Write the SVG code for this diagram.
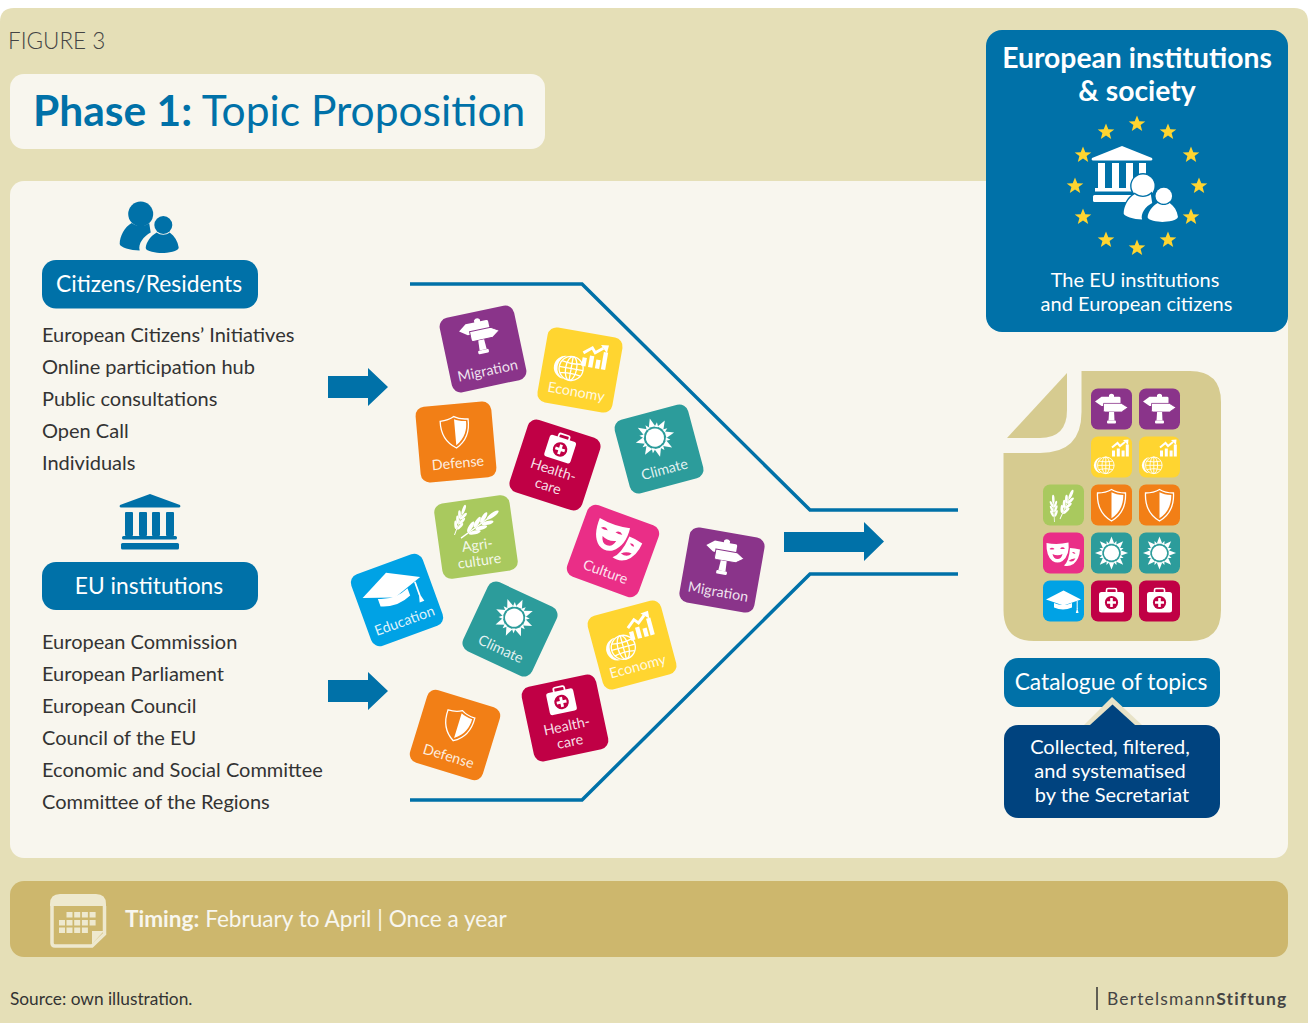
<svg xmlns="http://www.w3.org/2000/svg" width="1308" height="1023" viewBox="0 0 1308 1023">
<style>
text{font-family:Lato,"Open Sans","Liberation Sans",sans-serif}
.tile text{fill:#fff;fill-opacity:.88;font-size:14.300px;text-anchor:middle}
.mig{color:#8A348A}.eco{color:#FFD530}.def{color:#F27F16}.hea{color:#C00045}.cli{color:#2C9C9B}.agr{color:#A9C95E}.cul{color:#EA2E87}.edu{color:#00A2E5}
.list{fill:#333;font-size:20px}
.pill{fill:#0071A8}
.pt{fill:#fff;font-size:22.800px;text-anchor:middle}
.panel{fill:#F8F6EE}
.wt{fill:#fff;text-anchor:middle}
.conn{fill:none;stroke:#0071A8;stroke-width:3.500}
.arr{fill:#0071A8}
.star{fill:#FFD530}
.halo{stroke:#0071A8;stroke-width:3;paint-order:stroke}
</style>
<defs>
<rect id="tb" x="-38" y="-38" width="76" height="76" rx="9" fill="currentColor"/>
<rect id="ts" x="-20.500" y="-20.500" width="41" height="41" rx="7" fill="currentColor"/>
<g id="i-mig" fill="#fff">
<path d="M-2.500,-12.300V-14Q0,-16.500 2.500,-14V-12.300H7.500Q9,-12.300 9,-11V-4.500Q9,-3 7.500,-3H-10L-16.500,-7.500L-10,-12.300Z"/>
<path d="M-8,-5.600H10L16.500,-1.500L10,3H-6.500Q-8,3 -8,1.500Z" stroke="currentColor" stroke-width=".8"/>
<path d="M-2.400,3H2.600L3,11.500H-3Z"/>
<rect x="-4.500" y="11.500" width="9" height="3" rx="1"/>
</g>
<g id="eco-g">
<path d="M-4,-8A8,8 0 0 0 -4,8A8.600,8.600 0 0 1 -4,-8Z" fill="#fff"/>
<g fill="none" stroke="#fff" stroke-width=".9">
<circle r="8.300"/><ellipse rx="3.800" ry="8.300"/><path d="M0,-8.300V8.300M-8.300,0H8.300M-7,-4.200Q0,-2.600 7,-4.200M-7,4.200Q0,2.600 7,4.200"/>
</g>
</g>
<g id="eco-c" fill="#fff">
<rect x="-8" y="2" width="3" height="6"/><rect x="-3.200" y="0" width="3" height="8"/><rect x="1.600" y="2" width="3" height="6"/><rect x="5.800" y="-4" width="3" height="12"/>
<path d="M-8,-1L-2.500,-5.500L0,-2.500L5,-6.500" fill="none" stroke="#fff" stroke-width="2"/>
<path d="M3,-8.500L8.500,-9L8,-3.500Z"/>
</g>
<g id="i-def">
<path d="M0,-15.500C4,-13 9,-12 14,-12C14.500,-2 12,9 0,16C-12,9 -14.500,-2 -14,-12C-9,-12 -4,-13 0,-15.500Z" fill="none" stroke="#fff" stroke-width="1.300"/>
<path d="M0,-12.800C3,-11.200 7,-10.200 11.800,-10C12,-2 9.500,7 0,13.200Z" fill="#fff"/>
</g>
<g id="i-cli" fill="#fff">
<circle r="7.600"/>
<path d="M-2.800,-9.200L0,-16.500L2.800,-9.200Z"/>
<path d="M-2.800,-9.200L0,-16.500L2.800,-9.200Z" transform="rotate(45)"/>
<path d="M-2.800,-9.200L0,-16.500L2.800,-9.200Z" transform="rotate(90)"/>
<path d="M-2.800,-9.200L0,-16.500L2.800,-9.200Z" transform="rotate(135)"/>
<path d="M-2.800,-9.200L0,-16.500L2.800,-9.200Z" transform="rotate(180)"/>
<path d="M-2.800,-9.200L0,-16.500L2.800,-9.200Z" transform="rotate(225)"/>
<path d="M-2.800,-9.200L0,-16.500L2.800,-9.200Z" transform="rotate(270)"/>
<path d="M-2.800,-9.200L0,-16.500L2.800,-9.200Z" transform="rotate(315)"/>
<path d="M-1.600,-9L0,-13L1.600,-9Z" transform="rotate(22.500)"/>
<path d="M-1.600,-9L0,-13L1.600,-9Z" transform="rotate(67.500)"/>
<path d="M-1.600,-9L0,-13L1.600,-9Z" transform="rotate(112.500)"/>
<path d="M-1.600,-9L0,-13L1.600,-9Z" transform="rotate(157.500)"/>
<path d="M-1.600,-9L0,-13L1.600,-9Z" transform="rotate(202.500)"/>
<path d="M-1.600,-9L0,-13L1.600,-9Z" transform="rotate(247.500)"/>
<path d="M-1.600,-9L0,-13L1.600,-9Z" transform="rotate(292.500)"/>
<path d="M-1.600,-9L0,-13L1.600,-9Z" transform="rotate(337.500)"/>
</g>
<g id="i-hea">
<path d="M-5,-8.500V-11Q-5,-12.500 -3.500,-12.500H3.500Q5,-12.500 5,-11V-8.500" fill="none" stroke="#fff" stroke-width="1.600"/>
<rect x="-12.500" y="-9" width="25" height="20.500" rx="2.500" fill="#fff"/>
<circle cy="1.500" r="6.600" fill="currentColor"/>
<path d="M-1.300,-3H1.300V.2H4.500V2.800H1.300V6H-1.300V2.800H-4.500V.2H-1.300Z" fill="#fff"/>
</g>
<g id="i-cul">
<path d="M-17,-10Q-6,-8 5,-10.500Q6.500,2 -1,8Q-6,11 -11,8Q-17.500,3 -17,-10Z" fill="#fff"/>
<path d="M-14,-4Q-11.500,-6.500 -9,-4Q-11.500,-3 -14,-4ZM-3.500,-4.500Q-1,-7 1.500,-4.500Q-1,-3.500 -3.500,-4.500ZM-11,1Q-6,3.500 -1,1Q-2,6 -6,6Q-10,6 -11,1Z" fill="currentColor"/>
<path d="M6.500,-5Q11,-5 16.500,-3.500Q16,6 10,11Q5,14 .5,12.500Q5.500,8.500 6.500,-5Z" fill="#fff"/>
<path d="M8.500,-.5Q10.500,-2 12,.5Q10,1 8.500,-.5ZM5,8Q8,5 12,5.500Q10,9.500 5,8Z" fill="currentColor"/>
</g>
<g id="ear" fill="#fff">
<path d="M0,0V-30" stroke="#fff" stroke-width=".9"/>
<ellipse cx="-2.400" cy="-10" rx="1.400" ry="4.200" transform="rotate(-22 -2.400 -10)"/><ellipse cx="2.400" cy="-10" rx="1.400" ry="4.200" transform="rotate(22 2.400 -10)"/>
<ellipse cx="-2.400" cy="-15.500" rx="1.400" ry="4.200" transform="rotate(-22 -2.400 -15.500)"/><ellipse cx="2.400" cy="-15.500" rx="1.400" ry="4.200" transform="rotate(22 2.400 -15.500)"/>
<ellipse cx="-2.300" cy="-21" rx="1.400" ry="4.200" transform="rotate(-22 -2.300 -21)"/><ellipse cx="2.300" cy="-21" rx="1.400" ry="4.200" transform="rotate(22 2.300 -21)"/>
<ellipse cx="0" cy="-27" rx="1.500" ry="5"/>
</g>
<g id="i-agr">
<use href="#ear" transform="translate(-3.500,14) rotate(24)"/>
<use href="#ear" transform="translate(-9,17) rotate(-3) scale(.85)"/>
</g>
<g id="i-edu" fill="#fff">
<path d="M-9.500,2V6.500Q-.5,10.500 8.500,6.500V2Q-.5,6 -9.500,2Z"/>
<path d="M-17.500,-1.500L0,-10.500L17.500,-1.500L0,4.500Z"/>
<path d="M13.700,0V8" stroke="#fff" stroke-width="1"/>
<path d="M12.300,12L13.700,6.500L15.100,12Z"/>
</g>
<g id="people">
<circle r="12.500"/>
<path d="M-9,9C-16,13 -21,22 -21,30C-21,33 -10,36.500 -1,36.500C-3,30 3,22 10,18.500L8.500,9C4,13 -4,13 -9,9Z"/>
<circle cx="22.600" cy="11" r="9"/>
<path d="M16,18.500C10,22 5.500,28 5,34C5,37.500 16,39 21,39C27,39 38,37.500 38,33.500C37,27 34,22 29,18.500C25,21.500 20,21.500 16,18.500Z"/>
</g>
<polygon id="st" points="0,-8.500 2.300,-2.800 8.300,-2.600 3.600,1.100 5.200,7 0,3.600 -5.200,7 -3.600,1.100 -8.300,-2.600 -2.300,-2.800"/>
</defs>

<g id="background">
<rect width="1308" height="1023" fill="#fff"/>
<path d="M0,22Q0,8 14,8H1294Q1308,8 1308,22V1023H0Z" fill="#E5DFB7"/>
<rect class="panel" x="10" y="181" width="1278" height="677" rx="14"/>
</g>
<text x="8" y="49" font-size="22.500" font-weight="300" fill="#444">FIGURE 3</text>
<g id="title">
<rect class="panel" x="10" y="74" width="535" height="75" rx="14"/>
<text x="33" y="126" font-size="42.500" fill="#0071A8"><tspan font-weight="700">Phase 1:</tspan> Topic Proposition</text>
</g>

<g id="connectors">
<path class="conn" d="M410,284H582L810,510H958"/>
<path class="conn" d="M410,800H582L810,574H958"/>
<path class="arr" d="M328,376H368V368L388,387L368,406V398H328Z"/>
<path class="arr" d="M328,680H368V672L388,691L368,710V702H328Z"/>
<path class="arr" d="M784,532H864V522L884,541.500L864,561V552H784Z"/>
</g>

<g id="citizens">
<use href="#people" fill="#0071A8" transform="translate(140.700,214)"/>
<rect class="pill" x="42" y="260" width="216" height="48.500" rx="14"/>
<text class="pt" x="149" y="292">Citizens/Residents</text>
<text class="list" x="42" y="342">European Citizens’ Initiatives</text>
<text class="list" x="42" y="374">Online participation hub</text>
<text class="list" x="42" y="406">Public consultations</text>
<text class="list" x="42" y="438">Open Call</text>
<text class="list" x="42" y="470">Individuals</text>
</g>
<g id="eu-institutions">
<g fill="#0071A8">
<path d="M120,505L150,494L180,505Q181,507.500 179,507.500H121Q119,507.500 120,505Z"/>
<rect x="125" y="512" width="8" height="24" rx="1"/><rect x="139" y="512" width="8" height="24" rx="1"/><rect x="152" y="512" width="8" height="24" rx="1"/><rect x="166" y="512" width="8" height="24" rx="1"/>
<rect x="122" y="536" width="55" height="3.500" rx="1.500"/><rect x="121" y="543" width="58" height="6.500" rx="1.500"/>
</g>
<rect class="pill" x="42" y="562" width="216" height="48" rx="14"/>
<text class="pt" x="149" y="594">EU institutions</text>
<text class="list" x="42" y="649">European Commission</text>
<text class="list" x="42" y="681">European Parliament</text>
<text class="list" x="42" y="713">European Council</text>
<text class="list" x="42" y="745">Council of the EU</text>
<text class="list" x="42" y="777">Economic and Social Committee</text>
<text class="list" x="42" y="809">Committee of the Regions</text>
</g>

<g id="tile-migration-1" class="tile mig" transform="translate(483,349) rotate(-12)"><use href="#tb"/><use href="#i-mig" transform="translate(0,-13) scale(1.2)"/><text y="27">Migration</text></g>
<g id="tile-economy-1" class="tile eco" transform="translate(580,370) rotate(10)"><use href="#tb"/><use href="#eco-g" transform="translate(-9,0) scale(1.45)"/><use href="#eco-c" transform="translate(12,-16) scale(1.45)"/><text y="27">Economy</text></g>
<g id="tile-defense-1" class="tile def" transform="translate(456,442) rotate(-5)"><use href="#tb"/><use href="#i-def" transform="translate(0,-10)"/><text y="26">Defense</text></g>
<g id="tile-health-1" class="tile hea" transform="translate(555,465) rotate(18)"><use href="#tb"/><use href="#i-hea" transform="translate(0,-18) scale(1.1)"/><text y="10">Health-</text><text y="27">care</text></g>
<g id="tile-climate-1" class="tile cli" transform="translate(659,449) rotate(-15)"><use href="#tb"/><use href="#i-cli" transform="translate(-1,-12) scale(1.2)"/><text y="26">Climate</text></g>
<g id="tile-agri" class="tile agr" transform="translate(476,537) rotate(-8)"><use href="#tb"/><use href="#ear" transform="translate(-21,-5) rotate(28)"/><use href="#ear" transform="translate(-15,-1) rotate(62) scale(1.45)"/><text y="13">Agri-</text><text y="29">culture</text></g>
<g id="tile-culture" class="tile cul" transform="translate(613,551) rotate(20)"><use href="#tb"/><use href="#i-cul" transform="translate(1,-12) scale(1.45)"/><text y="27">Culture</text></g>
<g id="tile-migration-2" class="tile mig" transform="translate(722,570) rotate(10)"><use href="#tb"/><use href="#i-mig" transform="translate(0,-13) scale(1.2)"/><text y="27">Migration</text></g>
<g id="tile-education" class="tile edu" transform="translate(397,600) rotate(-20)"><use href="#tb"/><use href="#i-edu" transform="translate(-1,-11) scale(1.75)"/><text y="27">Education</text></g>
<g id="tile-climate-2" class="tile cli" transform="translate(510,629) rotate(25)"><use href="#tb"/><use href="#i-cli" transform="translate(-1,-12) scale(1.2)"/><text y="27">Climate</text></g>
<g id="tile-economy-2" class="tile eco" transform="translate(632,645) rotate(-15)"><use href="#tb"/><use href="#eco-g" transform="translate(-9,0) scale(1.45)"/><use href="#eco-c" transform="translate(12,-16) scale(1.45)"/><text y="27">Economy</text></g>
<g id="tile-health-2" class="tile hea" transform="translate(565,718) rotate(-12)"><use href="#tb"/><use href="#i-hea" transform="translate(0,-18) scale(1.1)"/><text y="13">Health-</text><text y="29">care</text></g>
<g id="tile-defense-2" class="tile def" transform="translate(455,735) rotate(17)"><use href="#tb"/><use href="#i-def" transform="translate(0,-10)"/><text y="27">Defense</text></g>

<g id="society">
<rect x="986" y="30" width="302" height="302" rx="16" fill="#0071A8"/>
<text class="wt" font-size="28.300" font-weight="700" x="1137" y="68">European institutions</text>
<text class="wt" font-size="28.300" font-weight="700" x="1137" y="101">&amp; society</text>
<g class="star">
<use href="#st" x="1137" y="124"/><use href="#st" x="1168" y="132"/><use href="#st" x="1191" y="155"/><use href="#st" x="1199" y="186"/><use href="#st" x="1191" y="217"/><use href="#st" x="1168" y="240"/><use href="#st" x="1137" y="248"/><use href="#st" x="1106" y="240"/><use href="#st" x="1083" y="217"/><use href="#st" x="1075" y="186"/><use href="#st" x="1083" y="155"/><use href="#st" x="1106" y="132"/>
</g>
<g fill="#fff">
<path d="M1092,158L1122,146L1152,158Q1153,160.500 1151,160.500H1093Q1091,160.500 1092,158Z"/>
<rect x="1098" y="163" width="7" height="25"/><rect x="1112" y="163" width="7" height="25"/><rect x="1126" y="163" width="7" height="25"/><rect x="1139" y="163" width="7" height="25"/>
<rect x="1095" y="188" width="52" height="3.500"/><rect x="1093" y="195" width="48" height="7" rx="1.500"/>
<use class="halo" href="#people" transform="translate(1143,186) scale(.92)"/>
</g>
<text class="wt" font-size="20" x="1135" y="287">The EU institutions</text>
<text class="wt" font-size="20" x="1136.500" y="311">and European citizens</text>
</g>

<g id="catalogue-document">
<path d="M1081.500,371H1190Q1221,371 1221,402V610Q1221,641 1190,641H1034Q1003.500,641 1003.500,610V453H1040Q1081.500,453 1081.500,412Z" fill="#D6CB90"/>
<path d="M1067,373L1007,438H1040Q1067,438 1067,410Z" fill="#D6CB90"/>
<g class="mig"><use href="#ts" x="1111.500" y="409"/><use href="#i-mig" x="1111.500" y="409"/><use href="#ts" x="1159.500" y="409"/><use href="#i-mig" x="1159.500" y="409"/></g>
<g class="eco"><use href="#ts" x="1111.500" y="457"/><use href="#eco-g" x="1105.800" y="465.300"/><use href="#eco-c" x="1120" y="448.500"/><use href="#ts" x="1159.500" y="457"/><use href="#eco-g" x="1153.800" y="465.300"/><use href="#eco-c" x="1168" y="448.500"/></g>
<g class="agr"><use href="#ts" x="1063.500" y="505"/><use href="#i-agr" x="1063.500" y="505"/></g>
<g class="def"><use href="#ts" x="1111.500" y="505"/><use href="#i-def" x="1111.500" y="505"/><use href="#ts" x="1159.500" y="505"/><use href="#i-def" x="1159.500" y="505"/></g>
<g class="cul"><use href="#ts" x="1063.500" y="553"/><use href="#i-cul" x="1063.500" y="553"/></g>
<g class="cli"><use href="#ts" x="1111.500" y="553"/><use href="#i-cli" x="1111.500" y="553"/><use href="#ts" x="1159.500" y="553"/><use href="#i-cli" x="1159.500" y="553"/></g>
<g class="edu"><use href="#ts" x="1063.500" y="601"/><use href="#i-edu" x="1063.500" y="601"/></g>
<g class="hea"><use href="#ts" x="1111.500" y="601"/><use href="#i-hea" x="1111.500" y="601"/><use href="#ts" x="1159.500" y="601"/><use href="#i-hea" x="1159.500" y="601"/></g>
</g>

<g id="catalogue-label">
<rect class="pill" x="1004" y="658" width="216" height="49" rx="14"/>
<text class="pt" x="1111" y="690">Catalogue of topics</text>
</g>
<g id="secretariat">
<path d="M1084,725L1112,697L1142,725Z" fill="#E8E3C8"/>
<path d="M1090,725L1112.500,704.500L1135,725Z" fill="#00437F"/>
<rect x="1004" y="725" width="216" height="93" rx="14" fill="#00437F"/>
<text class="wt" font-size="20" x="1110" y="754">Collected, filtered,</text>
<text class="wt" font-size="20" x="1110" y="778">and systematised</text>
<text class="wt" font-size="20" x="1112" y="802">by the Secretariat</text>
</g>

<g id="timing">
<rect x="10" y="881" width="1278" height="76" rx="14" fill="#CDB76D"/>
<g fill="#EEE9CF">
<path d="M50,906V904Q50,894 60,894H96Q106,894 106,904V906Z"/>
<path d="M52,906V943Q52,946 55,946H92L104.500,934V906" fill="none" stroke="#EEE9CF" stroke-width="3.500"/>
<path d="M92,931H104L92,944Z"/>
<path d="M66.500,912h6v5.500h-6zM74.200,912h6v5.500h-6zM81.900,912h6v5.500h-6zM89.600,912h6v5.500h-6zM59,920h6v5.500h-6zM66.500,920h6v5.500h-6zM74.200,920h6v5.500h-6zM81.900,920h6v5.500h-6zM89.600,920h6v5.500h-6zM59,927.500h6v5.500h-6zM66.500,927.500h6v5.500h-6zM74.200,927.500h6v5.500h-6zM81.900,927.500h6v5.500h-6z"/>
</g>
<text x="125" y="927" font-size="22.600" fill="#F8F6EE"><tspan font-weight="700">Timing:</tspan> February to April | Once a year</text>
</g>

<text x="10" y="1005" font-size="17.300" fill="#333">Source: own illustration.</text>
<g id="logo">
<path d="M1097,987V1010" stroke="#333" stroke-width="1.500"/>
<text x="1107" y="1005" font-size="17.500" letter-spacing="1.150" fill="#444">Bertelsmann<tspan font-weight="700">Stiftung</tspan></text>
</g>
</svg>
